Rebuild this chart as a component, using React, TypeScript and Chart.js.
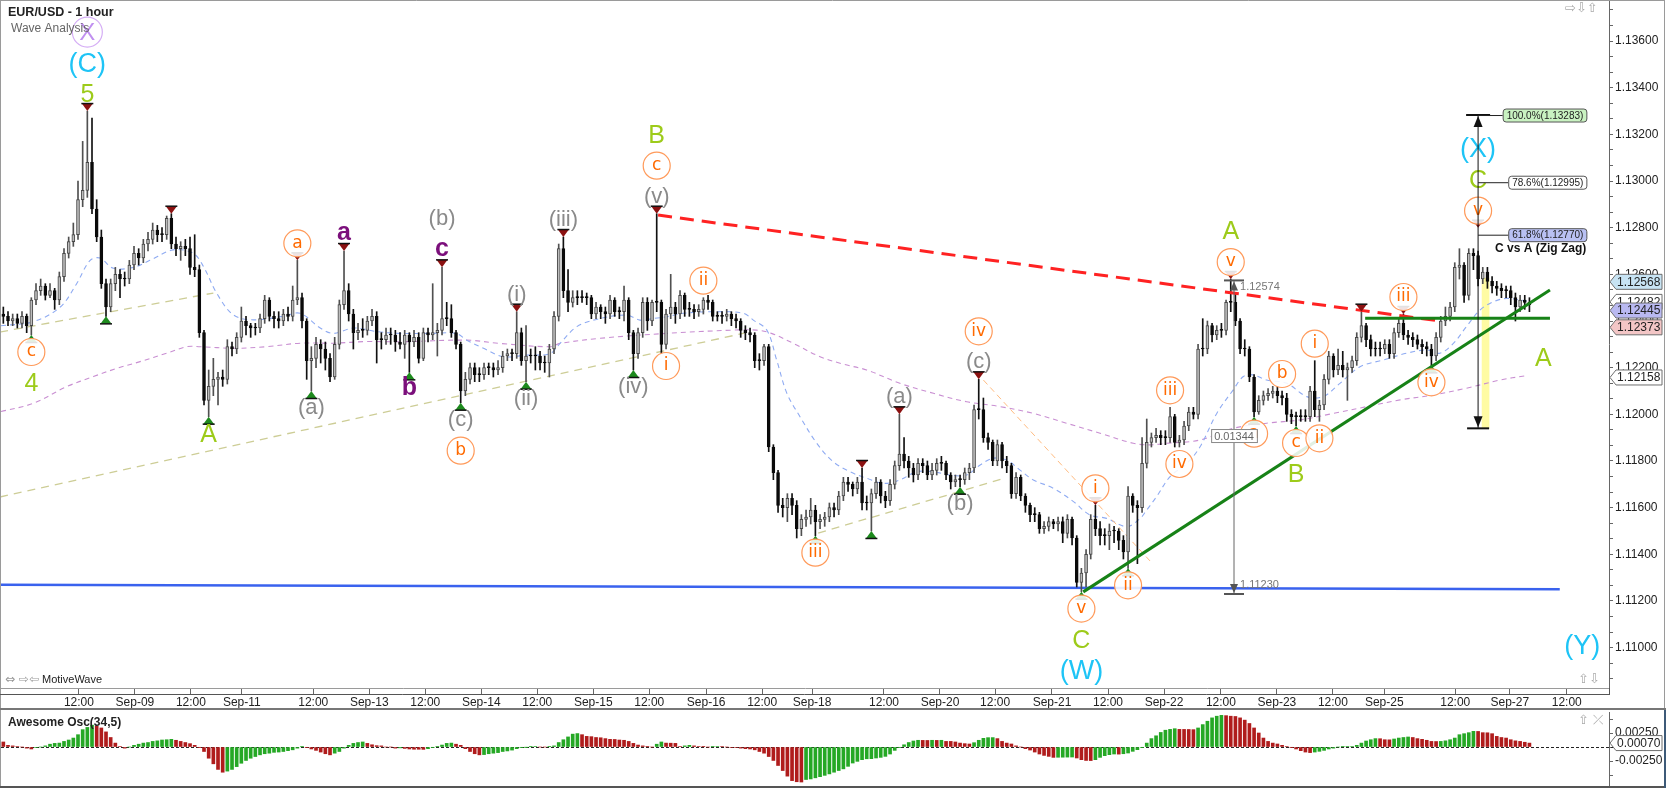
import React, { useEffect, useRef } from "react";
import { Chart, registerables } from "chart.js";

Chart.register(...registerables);

// ---------- DATA (prices in pips above 1.10000) ----------
const BASE_PRICE = 1.1;
const PIP = 0.0001;
const firstOpen = 243;

const closes = [
  242,240,241,239,242,238,249,253,255,251, 253,249,259,269,274,277,292,296,308,288,
  276,256,246,256,260,258,258,264,269,267, 273,275,279,277,277,284,273,271,272,271,
  263,262,235,206,212,215,216,215,229,228, 233,240,238,237,237,241,249,242,241,240,
  243,242,249,250,240,223,224,230,228,224, 216,230,247,253,243,235,236,236,240,242,
  232,232,234,234,231,230,234,231,233,224, 235,234,235,236,241,241,235,230,210,215,
  220,217,217,220,220,219,220,225,226,226, 235,223,225,225,225,222,222,228,242,271,
  253,248,250,250,250,250,243,246,244,243, 249,244,244,249,235,226,235,248,240,248,
  248,230,243,246,243,251,245,245,244,245, 249,248,242,242,242,243,241,240,236,235,
  234,223,223,229,186,175,161,160,164,161, 151,155,156,159,154,155,156,160,159,165,
  171,170,168,171,162,162,166,171,165,163, 170,178,183,180,177,174,179,178,174,176,
  179,179,174,171,172,172,175,177,202,202, 190,188,180,187,180,178,166,173,165,161,
  157,157,151,152,154,153,154,149,155,147, 128,132,140,155,151,148,148,150,150,146,
  141,165,161,160,179,188,190,191,190,190, 199,188,189,195,201,200,228,228,238,234,
  236,236,248,248,240,228,228,216,201,206, 208,209,210,208,207,200,199,199,199,199,
  210,202,204,215,225,219,221,219,220,223, 233,238,232,228,228,228,230,226,235,239,
  234,233,232,230,229,228,225,233,240,242, 246,263,264,251,269,268,258,261,257,255,
  254,253,253,250,246,249,248,247,
];

const highs = [
  246,244,243,243,244,243,250,256,258,256, 256,254,261,271,276,282,300,317,330,327,
  292,279,258,258,263,262,261,266,272,271, 275,278,282,281,280,285,286,276,274,275,
  276,277,264,236,219,224,218,219,232,231, 235,246,242,239,239,243,251,250,244,244,
  245,246,255,266,252,241,229,233,232,231, 226,233,249,270,256,245,239,241,242,245,
  244,235,237,237,236,235,236,235,236,235, 237,237,256,239,263,248,247,236,231,218,
  222,222,220,222,222,222,223,227,228,228, 244,237,238,228,229,227,225,230,244,273,
  276,262,253,253,253,252,251,248,247,246, 251,250,246,255,250,236,237,250,250,249,
  286,249,245,260,248,253,252,248,247,247, 250,251,249,244,244,245,244,243,241,238,
  237,235,226,230,230,187,176,164,166,166, 163,157,159,164,161,157,158,162,162,167,
  173,173,171,173,177,165,168,173,172,167, 172,180,200,190,182,179,181,181,180,179,
  181,182,180,175,174,174,177,179,204,215, 207,192,189,189,188,182,179,175,174,166,
  162,160,158,154,156,155,156,156,157,156, 148,134,142,157,161,154,151,153,152,151,
  148,169,166,163,190,198,192,194,193,193, 203,200,191,197,203,203,230,241,240,239,
  238,239,249,258,252,241,232,229,217,208, 210,211,212,212,210,209,202,201,202,202,
  212,223,206,217,227,226,228,227,222,225, 235,244,239,234,231,231,232,232,237,241,
  243,236,235,234,232,231,230,235,242,246, 248,265,271,265,271,271,270,263,263,259,
  257,256,255,255,252,251,251,250,
];

const lows = [
  239,238,238,237,237,235,234,247,251,249, 250,245,247,257,267,272,275,289,293,286,
  274,254,242,244,253,250,255,256,262,264, 265,270,273,274,274,275,271,268,266,268,
  260,259,233,204,199,208,204,212,213,225, 226,231,234,233,234,235,239,240,237,237,
  238,240,240,247,237,215,210,220,222,219, 214,215,228,245,240,228,232,233,234,238,
  222,228,230,230,227,228,224,218,229,222, 223,231,232,225,234,238,233,228,205,208,
  213,214,214,215,217,216,217,218,223,223, 224,221,214,222,219,219,218,216,226,240,
  250,244,246,247,248,247,241,241,241,239, 241,242,241,240,232,219,224,233,236,238,
  244,226,228,241,239,241,242,242,241,242, 243,245,240,240,239,240,238,237,233,232,
  231,220,219,221,184,172,158,156,154,157, 147,148,152,153,148,151,152,154,156,157,
  163,167,165,166,159,159,150,164,162,160, 161,168,176,177,173,171,172,175,172,172,
  174,176,172,168,169,169,170,172,175,198, 188,185,178,178,177,175,164,164,163,158,
  154,154,149,149,150,151,150,145,147,144, 126,124,126,138,148,144,144,142,145,142,
  138,134,158,136,158,177,186,188,187,187, 188,186,186,187,193,198,198,225,226,231,
  232,233,234,244,238,226,225,214,199,200, 204,206,207,205,204,197,196,195,197,197,
  197,199,197,202,213,216,217,216,206,218, 221,231,229,225,225,225,226,224,224,233,
  232,230,229,228,226,225,221,223,231,238, 240,244,258,248,249,262,255,256,254,252,
  251,250,250,247,240,244,245,244,
];

// Awesome oscillator, pips
const aoPips = [
  9,3,2,1,0,-2,-3.5,-1,0,2, 5,6.5,7,10,12.5,16,22,31,35,39,
  37,34,27,17,7,1,-2,0,3,5, 7,8,10,11,12.5,13,13.7,12,10,8,
  6,3,-0.5,-8,-20,-30,-40,-45,-43,-40, -35,-29,-24,-20,-17,-14,-12,-11,-9.5,-9,
  -8,-6.5,-5,-2,0.5,-0.5,-3.5,-6,-9,-12, -14,-11,-8,-2,3,6.5,8,9,6.5,4,
  2.4,2,0,0,-2,-1.5,-2.5,-3.5,-4,-4, -4.2,-3,-0.5,0.5,3.5,6.5,7,5,3,-3,
  -8,-12,-14,-13.5,-12,-11,-10,-8,-7,-5.5, -3,-0.5,-0.3,0.5,1,0,0,0.5,2,8,
  13,18,23,24,22,19,18.5,17,16.5,15, 13.7,13.5,12.5,12,10,6.5,3.5,2,0.5,0,
  5,9,7,6.8,6.5,1,2,3,2,1, 0.5,0,0.5,1,1,0,-1,-1,-2,-3,
  -3.5,-5,-8,-11,-17,-24,-33,-42,-52,-60, -62,-62.5,-58,-57,-55,-53,-50.6,-48,-45,-42,
  -39,-34.5,-28.6,-25.6,-22.6,-21,-20.8,-19.6,-18.5,-16.7, -12.5,-6,-0.5,4,8,10.7,12,11.8,11.7,12,
  11.8,12,10,10,9,7,6,5.4,7.7,12, 15.5,16.7,16.8,15,10,7,5.4,2,0,-3,
  -5.4,-9,-12.5,-15,-16.7,-18.5,-18.3,-18.2,-18,-17.9, -19.6,-22.6,-24,-24.2,-22.6,-18.5,-15.5,-13.7,-12.5,-12.7,
  -12,-10.7,-7.7,-4.8,-0.5,7,15,20,26,30, 31.5,32.7,31.5,31.4,31.3,31,34,40,46,52,
  55,56.5,56,55,54.5,52,48,42,34,25, 16,10,7,5.4,3,1,-0.5,-3.5,-6.5,-9,
  -10,-9,-7.7,-6,-3.5,-2,0,0.5,0.7,1, 3,7,10.7,13,15,14.8,13,12.8,14.3,16,
  17,17.9,17,15,13.7,12,10,9.8,10,11, 13,16,22,23.8,25.6,28,27.8,25.6,25.4,23.8,
  19,17,16,13,11,10,8.5,7,
];

// time axis labels (bar positions)
const tickBars = [16.2,28.2,40.2,51.1,66.4,78.4,90.4,102.4,114.4,126.4,138.4,150.6,162.6,173.3,188.7,200.7,212.5,224.7,236.7,248.7,260.9,272.9,284.9,295.9,311.1,322.8,335.0];
const tickText = ["12:00","Sep-09","12:00","Sep-11","12:00","Sep-13","12:00","Sep-14","12:00","Sep-15","12:00","Sep-16","12:00","Sep-18","12:00","Sep-20","12:00","Sep-21","12:00","Sep-22","12:00","Sep-23","12:00","Sep-25","12:00","Sep-27","12:00"];

// moving averages
const fastMaBars = [-0.5,6.4,12.2,15.7,18.6,20.7,23.6,27.9,31.4,36.4,40.7,42.9,45.7,49.3,53.6,60,63.6,67.9,70.7,75,80,85,92,97,99.3,102.9,107.1,112.1,117.1,119.3,122.9,127.9,133.6,136.4,139.3,142.1,145.7,152.9,158.6,160.7,163.6,165.7,167.9,170.7,174.3,177.8,181.4,185,188.6,192.1,195.7,199.3,202.8,206.4,209.3,212.1,215,217.8,220.7,225,229.3,232.8,236.4,240.7,243.6,245,247.1,250,253.6,256.4,260,263.5,265.7,267.8,270.7,275,279.3,282.8,286.4,290.7,295.7,300.7,305,307.8,310.7,313.5,316.4,319.3,322.1,325,327];
const fastMaPips = [238,239.7,246,256,266,267,262.6,263,266,270.5,269,263.3,252,242.6,240.5,242,243.3,237,234.7,237,235.5,234.7,234.7,234.7,231.8,228.3,224.7,225.4,226,230.4,237.6,241.1,242.5,240.4,241.1,241.8,243.3,244,243.3,240.4,236.1,223.3,209,199,187.6,179.7,175.4,172.6,170.4,171.9,175.4,175.4,174,174,178.3,181.2,180.4,176.2,171.9,168.3,162.6,156.9,155.4,151.9,155.4,159,164.7,173.3,179,186,200.4,210.4,216.2,216.9,214.7,213.3,207.6,207.6,213.3,220.4,223.3,226.2,227.6,226.2,230.4,237.6,244.7,248.3,249.7,249,248.3];
const slowMaBars = [-0.5,6.4,13.6,19.3,24.3,29.3,35,39.3,42.2,49.3,56.4,63.6,70.7,77.9,85,99.3,106.4,117.1,119.3,127.9,142.1,156.4,161.4,164.6,169.3,175,180,185,192.1,199.3,206.4,213.6,220.7,227.8,235,242.1,245.7,249.3,256.4,263.5,270.7,277.8,285,292.1,299.3,306.4,313.5,320.7,326];
const slowMaPips = [201.2,204.7,211.9,216.2,219.7,222.6,226.2,229,229,228.3,229,230.5,230.5,231.2,231.1,231.8,230.4,229,230.4,232.6,234.7,236.1,236.1,234.7,230.4,224.7,221.5,219,213.3,209,205.4,203.3,200.4,196.2,191.9,187.6,186.9,187.6,189,194,196.2,197.6,200.4,203.3,206.2,208.3,211.2,214.7,216.5];

// drawn trend lines (bar, pips)
const redLineBars = [140.3, 307.8];     const redLinePips = [285.4, 240];
const greenRiseBars = [231.4, 331.4];   const greenRisePips = [123.9, 253.3];
const greenFlatBars = [291.8, 331.4];   const greenFlatPips = [241.2, 241.2];
const blueLineBars = [-0.5, 333.5];     const blueLinePips = [127, 125];
const tanABars = [-0.7, 45];            const tanAPips = [235.3, 252];
const tanBBars = [-0.7, 159];           const tanBPips = [164.6, 234.9];
const tanCBars = [174.6, 214.7];        const tanCPips = [149.1, 172.7];
const orangeBars = [210, 246.1];        const orangePips = [214.7, 136.3];

// wave labels: bar, side (1 above high / -1 below low), marker, labels, optional anchor pips
const waveGroups: any[] = [
  [6, -1, true, [["c","oc"],["4","g"]]],
  [18, 1, true, [["5","g"],["(C)","cy"],["X","pc"]]],
  [22, -1, true, []],
  [36, 1, true, []],
  [44, -1, true, [["A","g"]]],
  [63, 1, true, [["a","oc"]]],
  [66, -1, true, [["(a)","gr"]]],
  [73, 1, true, [["a","pu"]]],
  [87, -1, true, [["b","pu"]]],
  [94, 1, true, [["c","pu"],["(b)","gr"]]],
  [98, -1, true, [["(c)","gr"],["b","oc"]]],
  [110, 1, true, [["(i)","gr"]]],
  [112, -1, true, [["(ii)","gr"]]],
  [120, 1, true, [["(iii)","gr"]]],
  [135, -1, true, [["(iv)","gr"]]],
  [140, 1, true, [["(v)","gr"],["c","oc"],["B","g"]]],
  [142, -1, false, [["i","oc"]]],
  [150, 1, false, [["ii","oc"]]],
  [174, -1, true, [["iii","oc"]]],
  [184, 1, true, []],
  [186, -1, true, []],
  [192, 1, true, [["(a)","gr"]]],
  [205, -1, true, [["(b)","gr"]]],
  [209, 1, true, [["(c)","gr"],["iv","oc"]]],
  [231, -1, true, [["v","oc"],["C","g"],["(W)","cy"]]],
  [234, 1, true, [["i","oc"]]],
  [241, -1, true, [["ii","oc"]]],
  [250, 1, false, [["iii","oc"]]],
  [252, -1, false, [["iv","oc"]]],
  [263, 1, true, [["v","oc"],["A","g"]]],
  [268, -1, true, [["a","oc"]]],
  [274, 1, false, [["b","oc"]]],
  [277, -1, true, [["c","oc"],["B","g"]]],
  [281, 1, false, [["i","oc"]]],
  [282, -1, false, [["ii","oc"]]],
  [291, 1, true, []],
  [300, 1, true, [["iii","oc"]]],
  [306, -1, true, [["iv","oc"]]],
  [316, 1, true, [["v","oc"],["C","g"],["(X)","cy"]], 280],
];
const freeLabelBars = [330, 338.3];
const freeLabelPips = [224, 101];
const freeLabelText = [["A","g"],["(Y)","cy"]];

// fibonacci projection tool
const fibBar = 316;
const fibTopPips = 328.3;
const fibBottomPips = 194.0;
const fibLevelPips = [328.3, 299.5, 277.0];
const fibLevelPct = ["100.0", "78.6", "61.8"];
const fibNoteText = "C vs A (Zig Zag)";
const fibNotePips = 270.9;
const yellowBar = 317.6;
const yellowPips = [194.0, 258.4];

// measure tool
const measureBar = 263.7;
const measureTopPips = 257.4;
const measureBottomPips = 123.0;
const measureBoxPips = 190.7;

// price axis tags
const tagPips = [256.8, 248.2, 244.5, 237.3, 215.8];
const aoTagPips = 7;

// ---------- helpers ----------
const opens = closes.map((c, i) => (i === 0 ? firstOpen : closes[i - 1]));
const barIdx = closes.map((_, i) => i);
const priceText = (p: number) => (BASE_PRICE + p * PIP).toFixed(5);
const X_MIN = -0.5;
const X_MAX = 344.05;

const LABEL_STYLES: any = {
  oc: { font: '17px "DejaVu Sans"', color: "#ff6a00", ring: "#ff9a5a", r: 13.5, dy: 0 },
  g: { font: '25px "Liberation Sans"', color: "#9dcb1a", dy: 1 },
  cy: { font: '27px "Liberation Sans"', color: "#1ec4f6", dy: 1 },
  gr: { font: '22px "Liberation Sans"', color: "#8a8a8a", dy: 0 },
  pu: { font: 'bold 25px "Liberation Sans"', color: "#7b0f7b", dy: -1 },
  pc: { font: '24px "Liberation Sans"', color: "#c090f0", ring: "#d5aef5", r: 15, dy: 1 },
};

function drawLabel(ctx: any, text: string, style: string, cx: number, cy: number) {
  const s = LABEL_STYLES[style];
  if (s.r) {
    ctx.beginPath();
    ctx.arc(cx, cy, s.r, 0, Math.PI * 2);
    ctx.fillStyle = "rgba(255,255,255,0.88)";
    ctx.fill();
    ctx.lineWidth = 1.2;
    ctx.strokeStyle = s.ring;
    ctx.stroke();
  }
  ctx.font = s.font;
  ctx.fillStyle = s.color;
  ctx.textAlign = "center";
  ctx.textBaseline = "middle";
  ctx.fillText(text, cx, cy + s.dy);
}

function drawTri(ctx: any, cx: number, tipY: number, side: number) {
  const w = 5.5, h = 7.5;
  const by = side > 0 ? tipY - h : tipY + h;
  ctx.beginPath();
  ctx.moveTo(cx - w, by);
  ctx.lineTo(cx + w, by);
  ctx.lineTo(cx, tipY);
  ctx.closePath();
  ctx.fillStyle = side > 0 ? "#8b1111" : "#1d8a1d";
  ctx.fill();
  ctx.beginPath();
  ctx.moveTo(cx - w - 0.5, by);
  ctx.lineTo(cx + w + 0.5, by);
  ctx.lineWidth = 1.5;
  ctx.strokeStyle = "#111";
  ctx.stroke();
}

function seg(ctx: any, x1: number, y1: number, x2: number, y2: number) {
  ctx.beginPath();
  ctx.moveTo(x1, y1);
  ctx.lineTo(x2, y2);
  ctx.stroke();
}

function rrect(ctx: any, x: number, y: number, w: number, h: number, r: number) {
  ctx.beginPath();
  if (ctx.roundRect) ctx.roundRect(x, y, w, h, r);
  else ctx.rect(x, y, w, h);
}

function axisTag(ctx: any, x0: number, y: number, text: string, fill: string) {
  ctx.beginPath();
  ctx.moveTo(x0 + 1, y);
  ctx.lineTo(x0 + 7, y - 7.5);
  ctx.lineTo(x0 + 53, y - 7.5);
  ctx.lineTo(x0 + 53, y + 7.5);
  ctx.lineTo(x0 + 7, y + 7.5);
  ctx.closePath();
  ctx.fillStyle = fill;
  ctx.fill();
  ctx.lineWidth = 1;
  ctx.strokeStyle = "#6e6e6e";
  ctx.stroke();
  ctx.font = '12px "Liberation Sans"';
  ctx.fillStyle = "#222";
  ctx.textAlign = "left";
  ctx.textBaseline = "middle";
  ctx.fillText(text, x0 + 8, y + 0.5);
}

const lineDs = (xs: number[], ys: number[], color: string, width: number, dash: number[], order: number, tension = 0) => ({
  type: "line",
  data: xs.map((x, i) => ({ x, y: ys[i] })),
  borderColor: color,
  borderWidth: width,
  borderDash: dash,
  pointRadius: 0,
  pointHoverRadius: 0,
  fill: false,
  tension,
  order,
});

const tagFills = ["#c7e3f3", "#ffffff", "#b9b9f1", "#f3c6c6", "#ffffff"];
const fibFills = ["#c9f2c1", "#ffffff", "#b9c1f3"];

const mainOverlay = {
  id: "mainOverlay",
  afterDraw(chart: any) {
    const { ctx, chartArea: ca } = chart;
    const xs = chart.scales.x, ys = chart.scales.y;
    const X = (b: number) => xs.getPixelForValue(b);
    const Y = (p: number) => ys.getPixelForValue(p);
    ctx.save();

    // wave markers & labels
    for (const g of waveGroups) {
      const [bar, side, tri, labels, anchor] = g;
      const cx = X(bar);
      const ay = Y(anchor !== undefined ? anchor : side > 0 ? highs[bar] : lows[bar]);
      if (tri) drawTri(ctx, cx, ay, side);
      labels.forEach((l: string[], k: number) => {
        const cy = side > 0 ? ay - 17 - 31 * k : ay + 17 + 31 * k;
        drawLabel(ctx, l[0], l[1], cx, cy);
      });
    }
    freeLabelText.forEach((l, i) => drawLabel(ctx, l[0], l[1], X(freeLabelBars[i]), Y(freeLabelPips[i])));

    // measure tool
    const mx = X(measureBar), mt = Y(measureTopPips), mb = Y(measureBottomPips);
    ctx.strokeStyle = "#666"; ctx.lineWidth = 1;
    seg(ctx, mx, mt, mx, mb);
    ctx.strokeStyle = "#555"; ctx.lineWidth = 2;
    seg(ctx, mx - 10, mt, mx + 10, mt);
    seg(ctx, mx - 10, mb, mx + 10, mb);
    ctx.fillStyle = "#555";
    ctx.beginPath(); ctx.moveTo(mx, mt + 1); ctx.lineTo(mx - 4, mt + 10); ctx.lineTo(mx + 4, mt + 10); ctx.closePath(); ctx.fill();
    ctx.beginPath(); ctx.moveTo(mx, mb - 1); ctx.lineTo(mx - 4, mb - 10); ctx.lineTo(mx + 4, mb - 10); ctx.closePath(); ctx.fill();
    ctx.font = '11px "Liberation Sans"'; ctx.fillStyle = "#777"; ctx.textAlign = "left"; ctx.textBaseline = "middle";
    ctx.fillText(priceText(measureTopPips), mx + 6, mt + 7);
    ctx.fillText(priceText(measureBottomPips), mx + 6, mb - 9);
    const dText = ((measureTopPips - measureBottomPips) * PIP).toFixed(5);
    const dw = ctx.measureText(dText).width + 6;
    const by = Y(measureBoxPips);
    ctx.fillStyle = "#fff"; ctx.fillRect(mx - dw / 2, by - 7, dw, 14);
    ctx.strokeStyle = "#888"; ctx.lineWidth = 1; ctx.strokeRect(mx - dw / 2 + 0.5, by - 6.5, dw, 13);
    ctx.fillStyle = "#666"; ctx.textAlign = "center"; ctx.fillText(dText, mx, by + 0.5);

    // fib tool
    const fx = X(fibBar), ft = Y(fibTopPips), fb = Y(fibBottomPips);
    ctx.strokeStyle = "#111"; ctx.lineWidth = 1;
    seg(ctx, fx, ft, fx, fb);
    ctx.lineWidth = 2;
    seg(ctx, fx - 12, ft, fx + 12, ft);
    seg(ctx, fx - 11, fb, fx + 11, fb);
    ctx.fillStyle = "#111";
    ctx.beginPath(); ctx.moveTo(fx, ft + 1); ctx.lineTo(fx - 4.5, ft + 12); ctx.lineTo(fx + 4.5, ft + 12); ctx.closePath(); ctx.fill();
    ctx.beginPath(); ctx.moveTo(fx, fb - 1); ctx.lineTo(fx - 4.5, fb - 12); ctx.lineTo(fx + 4.5, fb - 12); ctx.closePath(); ctx.fill();
    const boxRight = X(339.2);
    fibLevelPips.forEach((p, k) => {
      const y = Y(p);
      const text = `${fibLevelPct[k]}%(${priceText(p)})`;
      ctx.font = '10px "Liberation Sans"';
      const w = ctx.measureText(text).width + 7;
      const left = boxRight - w;
      ctx.strokeStyle = "#222"; ctx.lineWidth = 1;
      seg(ctx, fx, y + 0.5, left, y + 0.5);
      rrect(ctx, left + 0.5, y - 6, w, 13, 3);
      ctx.fillStyle = fibFills[k]; ctx.fill();
      ctx.strokeStyle = "#555"; ctx.stroke();
      ctx.fillStyle = "#222"; ctx.textAlign = "left"; ctx.textBaseline = "middle";
      ctx.fillText(text, left + 4, y + 1);
    });
    ctx.font = 'bold 12px "Liberation Sans"'; ctx.fillStyle = "#111"; ctx.textAlign = "right"; ctx.textBaseline = "middle";
    ctx.fillText(fibNoteText, boxRight, Y(fibNotePips));

    // axis tags
    tagPips.forEach((p, i) => axisTag(ctx, ca.right, Y(p), priceText(p), tagFills[i]));

    // header texts
    ctx.textAlign = "left"; ctx.textBaseline = "middle";
    ctx.font = 'bold 12.5px "Liberation Sans"'; ctx.fillStyle = "#222";
    ctx.fillText("EUR/USD - 1 hour", 8, 13);
    ctx.font = '12px "Liberation Sans"'; ctx.fillStyle = "#666";
    ctx.fillText("Wave Analysis", 11, 29);
    ctx.font = '12px "DejaVu Sans"'; ctx.fillStyle = "#999";
    ctx.fillText("⇔ ⇨⇦", 5, 680);
    ctx.font = '11px "Liberation Sans"'; ctx.fillStyle = "#222";
    ctx.fillText("MotiveWave", 42, 680);
    ctx.font = '13px "DejaVu Sans"'; ctx.fillStyle = "#aaa";
    ctx.fillText("⇨⇩⇧", 1565, 9);
    ctx.fillText("⇧⇩", 1578, 680);

    // frames
    ctx.strokeStyle = "#9a9a9a"; ctx.lineWidth = 1;
    seg(ctx, 0.5, 0, 0.5, 710);
    seg(ctx, 0, 0.5, 1665, 0.5);
    seg(ctx, 1664.5, 0, 1664.5, 710);
    ctx.strokeStyle = "#555";
    seg(ctx, 0, ca.bottom + 6.5, ca.right, ca.bottom + 6.5);
    seg(ctx, ca.right + 0.5, ca.bottom, ca.right + 0.5, ca.bottom + 7);
    ctx.fillStyle = "#777";
    ctx.fillRect(0, 708, 1666, 2);
    ctx.restore();
  },
};

const aoOverlay = {
  id: "aoOverlay",
  beforeDatasetsDraw(chart: any) {
    const { ctx, chartArea: ca } = chart;
    const y0 = Math.round(chart.scales.y.getPixelForValue(0)) + 0.5;
    ctx.save();
    ctx.strokeStyle = "#222"; ctx.lineWidth = 1; ctx.setLineDash([3, 2]);
    seg(ctx, ca.left, y0, ca.right + 4, y0);
    ctx.restore();
  },
  afterDraw(chart: any) {
    const { ctx, chartArea: ca } = chart;
    const ys = chart.scales.y;
    ctx.save();
    axisTag(ctx, ca.right, ys.getPixelForValue(aoTagPips), (aoTagPips * PIP).toFixed(5), "#ffffff");
    ctx.font = 'bold 12px "Liberation Sans"'; ctx.fillStyle = "#222"; ctx.textAlign = "left"; ctx.textBaseline = "middle";
    ctx.fillText("Awesome Osc(34,5)", 8, 13);
    ctx.font = '13px "DejaVu Sans"'; ctx.fillStyle = "#aaa";
    ctx.fillText("⇧ ⤫", 1578, 11);
    ctx.strokeStyle = "#9a9a9a"; ctx.lineWidth = 1;
    seg(ctx, 0.5, 0, 0.5, 78);
    ctx.fillStyle = "#555";
    ctx.fillRect(0, 76, 1666, 2);
    ctx.fillStyle = "#3d5a78";
    ctx.fillRect(1664, 0, 2, 78);
    ctx.restore();
  },
};

function mainConfig(): any {
  const up = (i: number) => closes[i] > opens[i];
  return {
    type: "bar",
    data: {
      datasets: [
        {
          type: "bar",
          data: [{ x: yellowBar, y: yellowPips }],
          backgroundColor: "rgba(255,250,140,0.8)",
          barThickness: 7,
          grouped: false,
          order: 20,
        },
        lineDs(fastMaBars, fastMaPips, "#8fabf2", 1.1, [5, 4], 15, 0.35),
        lineDs(slowMaBars, slowMaPips, "#c98fd2", 1.1, [5, 4], 15, 0.35),
        lineDs(tanABars, tanAPips, "#cdcd96", 1.3, [8, 6], 14),
        lineDs(tanBBars, tanBPips, "#cdcd96", 1.3, [8, 6], 14),
        lineDs(tanCBars, tanCPips, "#cdcd96", 1.3, [8, 6], 14),
        lineDs(orangeBars, orangePips, "#ffbb80", 1, [6, 4], 13),
        lineDs(blueLineBars, blueLinePips, "#3a62ee", 2.5, [], 12),
        {
          type: "bar",
          data: barIdx.map((i) => ({ x: i, y: [lows[i], highs[i]] })),
          backgroundColor: barIdx.map((i) => (up(i) ? "#505050" : "#111")),
          barThickness: 1,
          grouped: false,
          order: 6,
        },
        {
          type: "bar",
          data: barIdx.map((i) => ({ x: i, y: [Math.min(opens[i], closes[i]), Math.max(opens[i], closes[i])] })),
          backgroundColor: barIdx.map((i) => (up(i) ? "#bcbcbc" : "#0a0a0a")),
          borderColor: barIdx.map((i) => (up(i) ? "#474747" : "#0a0a0a")),
          borderWidth: 1,
          borderSkipped: false,
          barThickness: 3,
          minBarLength: 1,
          grouped: false,
          order: 5,
        },
        lineDs(redLineBars, redLinePips, "#ff2222", 3, [14, 8], 3),
        lineDs(greenRiseBars, greenRisePips, "#178217", 3, [], 2),
        lineDs(greenFlatBars, greenFlatPips, "#178217", 3, [], 2),
      ],
    },
    options: {
      animation: false,
      responsive: false,
      maintainAspectRatio: false,
      devicePixelRatio: 1,
      events: [],
      layout: { padding: { left: 1, right: 0, top: 0, bottom: 0 } },
      plugins: { legend: { display: false }, tooltip: { enabled: false }, title: { display: false } },
      scales: {
        x: {
          type: "linear",
          min: X_MIN,
          max: X_MAX,
          offset: false,
          position: "bottom",
          grid: { display: true, drawOnChartArea: false, drawTicks: true, tickLength: 6, color: "#666", offset: false },
          border: { display: true, color: "#9a9a9a" },
          ticks: {
            autoSkip: false, maxRotation: 0, minRotation: 0, padding: 1, color: "#222",
            font: { size: 12, family: '"Liberation Sans"' },
            callback: (_v: any, i: number) => tickText[i] ?? "",
          },
          afterBuildTicks: (s: any) => { s.ticks = tickBars.map((v) => ({ value: v })); },
          afterFit: (s: any) => { s.height = 22; s.paddingLeft = 0; s.paddingRight = 0; },
        },
        y: {
          type: "linear",
          position: "right",
          min: 82.7,
          max: 377.6,
          grid: { display: true, drawOnChartArea: false, drawTicks: true, tickLength: 4, color: "#666" },
          border: { display: true, color: "#666" },
          ticks: {
            autoSkip: false, padding: 2, color: "#222",
            font: { size: 12, family: '"Liberation Sans"' },
            callback: (v: number) => (Math.abs(v / 20 - Math.round(v / 20)) < 1e-6 ? priceText(v) : ""),
          },
          afterBuildTicks: (s: any) => {
            const t: any[] = [];
            for (let j = 0; j < 60; j++) {
              const v = 80 + (j * 20) / 3;
              if (v >= 82.7 && v <= 377.6) t.push({ value: v });
            }
            s.ticks = t;
          },
          afterFit: (s: any) => { s.width = 59; s.paddingTop = 0; s.paddingBottom = 0; },
        },
      },
    },
    plugins: [mainOverlay],
  };
}

function aoConfig(): any {
  return {
    type: "bar",
    data: {
      datasets: [
        {
          type: "bar",
          data: aoPips.map((v, i) => ({ x: i, y: v })),
          backgroundColor: aoPips.map((v, i) => (i > 0 && v > aoPips[i - 1] ? "#25a825" : "#b01c1c")),
          barThickness: 3,
          grouped: false,
        },
      ],
    },
    options: {
      animation: false,
      responsive: false,
      maintainAspectRatio: false,
      devicePixelRatio: 1,
      events: [],
      layout: { padding: { left: 1, right: 0, top: 2, bottom: 2 } },
      plugins: { legend: { display: false }, tooltip: { enabled: false } },
      scales: {
        x: { type: "linear", min: X_MIN, max: X_MAX, offset: false, display: false },
        y: {
          type: "linear",
          position: "right",
          min: -69.6,
          max: 62.5,
          grid: { display: true, drawOnChartArea: false, drawTicks: true, tickLength: 4, color: "#666" },
          border: { display: true, color: "#666" },
          ticks: {
            autoSkip: false, padding: 2, color: "#222",
            font: { size: 12, family: '"Liberation Sans"' },
            callback: (v: number) => (Math.abs(v) === 25 ? (v * PIP).toFixed(5) : ""),
          },
          afterBuildTicks: (s: any) => { s.ticks = [-50, -25, 0, 25, 50].map((v) => ({ value: v })); },
          afterFit: (s: any) => { s.width = 59; s.paddingTop = 0; s.paddingBottom = 0; },
        },
      },
    },
    plugins: [aoOverlay],
  };
}

export default function App() {
  const mainRef = useRef<HTMLCanvasElement>(null);
  const aoRef = useRef<HTMLCanvasElement>(null);
  useEffect(() => {
    document.body.style.margin = "0";
    Chart.defaults.font.family = '"Liberation Sans", Arial, sans-serif';
    const c1 = new Chart(mainRef.current as any, mainConfig());
    const c2 = new Chart(aoRef.current as any, aoConfig());
    return () => {
      c1.destroy();
      c2.destroy();
    };
  }, []);
  return (
    <div style={{ position: "relative", width: 1668, height: 788, background: "#fff", overflow: "hidden" }}>
      <canvas ref={mainRef} width={1668} height={710} style={{ position: "absolute", left: 0, top: 0, width: 1668, height: 710, display: "block" }} />
      <canvas ref={aoRef} width={1668} height={78} style={{ position: "absolute", left: 0, top: 710, width: 1668, height: 78, display: "block" }} />
    </div>
  );
}
